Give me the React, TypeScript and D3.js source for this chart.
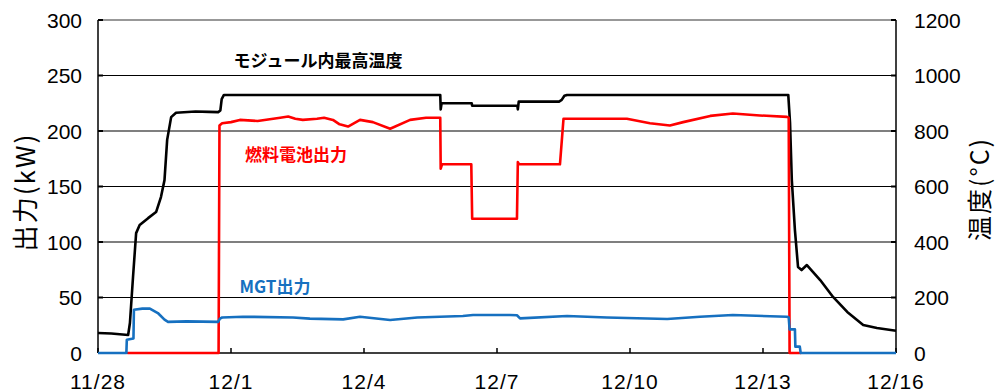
import React from "react";
import * as d3 from "d3";

// x = days since 11/28 00:00
const xTickDays = [0, 3, 6, 9, 12, 15, 18];
const xTickLabels = ["11/28", "12/1", "12/4", "12/7", "12/10", "12/13", "12/16"];
const leftTicks = [0, 50, 100, 150, 200, 250, 300];
const rightTicks = [0, 200, 400, 600, 800, 1000, 1200];

// モジュール内最高温度 (°C) — right axis
const tempData: [number, number][] = [
  [0, 72], [0.3, 70], [0.68, 65], [0.72, 108], [0.79, 274], [0.86, 432], [0.94, 461],
  [1.13, 486], [1.31, 508], [1.42, 562], [1.5, 623], [1.56, 768], [1.65, 850],
  [1.76, 866], [2.2, 870], [2.5, 869], [2.71, 868], [2.76, 874], [2.79, 915],
  [2.84, 930], [5.0, 930], [7.72, 930], [7.73, 878], [7.75, 900], [8.43, 900],
  [8.44, 891], [9.46, 891], [9.47, 878], [9.49, 906], [10.4, 906], [10.46, 912],
  [10.52, 927], [10.58, 930], [15.57, 930], [15.61, 829], [15.65, 623], [15.72, 443],
  [15.79, 310], [15.87, 299], [15.99, 317], [16.29, 263], [16.58, 202], [16.9, 148],
  [17.26, 101], [17.57, 90], [18.0, 80],
];

// 燃料電池出力 (kW)
const fcData: [number, number][] = [
  [0.66, 0], [2.72, 0], [2.74, 205], [2.8, 207], [3.0, 208], [3.2, 210], [3.6, 209],
  [4.11, 212], [4.29, 213], [4.45, 211], [4.62, 210], [4.94, 211], [5.1, 212],
  [5.3, 210], [5.45, 206], [5.64, 204], [5.91, 210], [6.2, 208], [6.59, 202],
  [7.04, 210], [7.4, 212], [7.72, 212], [7.73, 166], [7.76, 170], [8.42, 170],
  [8.44, 121], [9.45, 121], [9.47, 172], [9.5, 170], [10.42, 170], [10.5, 211],
  [11.17, 211], [11.93, 211], [12.45, 207], [12.9, 205], [13.2, 208], [13.81, 213.6],
  [14.32, 215.7], [14.93, 214], [15.54, 212.7], [15.58, 212], [15.6, 0], [15.86, 0],
];

// MGT出力 (kW)
const mgtData: [number, number][] = [
  [0, 0], [0.64, 0], [0.65, 12], [0.8, 13], [0.81, 39], [1.0, 40], [1.17, 40],
  [1.35, 36], [1.5, 30], [1.58, 28], [2.0, 28.5], [2.71, 28], [2.75, 31], [2.8, 32],
  [3.27, 32.7], [4.4, 32], [4.78, 31], [5.53, 30.3], [5.91, 32.7], [6.59, 29.7],
  [7.2, 32], [8.23, 33.3], [8.46, 34.2], [9.29, 34.2], [9.45, 34], [9.52, 31.2],
  [10.58, 33.3], [11.48, 32], [12.84, 30.6], [13.58, 32.7], [14.32, 34.2],
  [15.54, 32.7], [15.58, 32], [15.6, 21.3], [15.72, 21.3], [15.73, 5.7],
  [15.83, 5.7], [15.85, 0], [18, 0],
];

const W = 998;
const H = 392;
const plot = { left: 98, right: 896, top: 20, bottom: 353 };

const numFont = "'Liberation Sans', Arial, sans-serif";
const jpFont = "'Noto Sans CJK JP', 'Noto Sans', sans-serif";

export default function App() {
  const x = d3.scaleLinear().domain([0, 18]).range([plot.left, plot.right]);
  const yL = d3.scaleLinear().domain([0, 300]).range([plot.bottom, plot.top]);
  const yR = d3.scaleLinear().domain([0, 1200]).range([plot.bottom, plot.top]);

  const lineL = d3
    .line<[number, number]>()
    .x((d) => x(d[0]))
    .y((d) => yL(d[1]));
  const lineR = d3
    .line<[number, number]>()
    .x((d) => x(d[0]))
    .y((d) => yR(d[1]));

  return (
    <svg
      width={W}
      height={H}
      style={{ position: "absolute", left: 0, top: 0, background: "#fff" }}
    >
      <rect x={0} y={0} width={W} height={H} fill="#fff" />
      {/* gridlines */}
      {leftTicks.map((v) => (
        <line
          key={"g" + v}
          x1={plot.left}
          x2={plot.right}
          y1={yL(v)}
          y2={yL(v)}
          stroke={v === 300 ? "#333" : "#000"}
          strokeWidth={v === 0 ? 1.5 : 1.2}
        />
      ))}
      {/* frame sides */}
      <line x1={plot.left} x2={plot.left} y1={plot.top} y2={plot.bottom} stroke="#000" strokeWidth={1.5} />
      <line x1={plot.right} x2={plot.right} y1={plot.top} y2={plot.bottom} stroke="#000" strokeWidth={1.5} />
      {/* y ticks inward */}
      {leftTicks.map((v) => (
        <line key={"lt" + v} x1={plot.left} x2={plot.left + 5} y1={yL(v)} y2={yL(v)} stroke="#000" strokeWidth={2} />
      ))}
      {rightTicks.map((v) => (
        <line key={"rt" + v} x1={plot.right - 5} x2={plot.right} y1={yR(v)} y2={yR(v)} stroke="#000" strokeWidth={2} />
      ))}
      {/* x ticks inward */}
      {xTickDays.map((d) => (
        <line key={"xt" + d} x1={x(d)} x2={x(d)} y1={plot.bottom} y2={plot.bottom - 5} stroke="#000" strokeWidth={1.5} />
      ))}

      {/* series */}
      <path d={lineR(tempData) || ""} fill="none" stroke="#000" strokeWidth={2.6} strokeLinejoin="round" />
      <path d={lineL(fcData) || ""} fill="none" stroke="#ff0000" strokeWidth={2.6} strokeLinejoin="round" />
      <path d={lineL(mgtData) || ""} fill="none" stroke="#1670c0" strokeWidth={2.6} strokeLinejoin="round" />

      {/* left tick labels */}
      {leftTicks.map((v) => (
        <text key={"ll" + v} x={82} y={yL(v) + 7.5} textAnchor="end" fontFamily={numFont} fontSize={21} fill="#000">
          {v}
        </text>
      ))}
      {/* right tick labels */}
      {rightTicks.map((v) => (
        <text key={"rl" + v} x={914} y={yR(v) + 7.5} textAnchor="start" fontFamily={numFont} fontSize={21} fill="#000">
          {v}
        </text>
      ))}
      {/* x tick labels */}
      {xTickDays.map((d, i) => (
        <text key={"xl" + d} x={x(d)} y={389} textAnchor="middle" fontFamily={numFont} fontSize={21} letterSpacing={1} fill="#000">
          {xTickLabels[i]}
        </text>
      ))}

      {/* axis titles */}
      <text
        transform="translate(23,192) rotate(-90)"
        textAnchor="middle"
        dominantBaseline="central"
        fontFamily={jpFont}
        fontSize={26}
        letterSpacing={2}
        fill="#000"
      >
        出力(kW)
      </text>
      <text
        transform="translate(978,189) rotate(-90)"
        textAnchor="middle"
        dominantBaseline="central"
        fontFamily={jpFont}
        fontSize={25}
        letterSpacing={2}
        fill="#000"
      >
        温度(°C)
      </text>

      {/* annotations */}
      <text x={318} y={67} textAnchor="middle" fontFamily={jpFont} fontSize={17} fontWeight={700} fill="#000">
        モジュール内最高温度
      </text>
      <text x={296} y={161} textAnchor="middle" fontFamily={jpFont} fontSize={17} fontWeight={700} fill="#ff0000">
        燃料電池出力
      </text>
      <text x={275} y={293} textAnchor="middle" fontFamily={jpFont} fontSize={17} fontWeight={700} fill="#1670c0">
        MGT出力
      </text>
    </svg>
  );
}
